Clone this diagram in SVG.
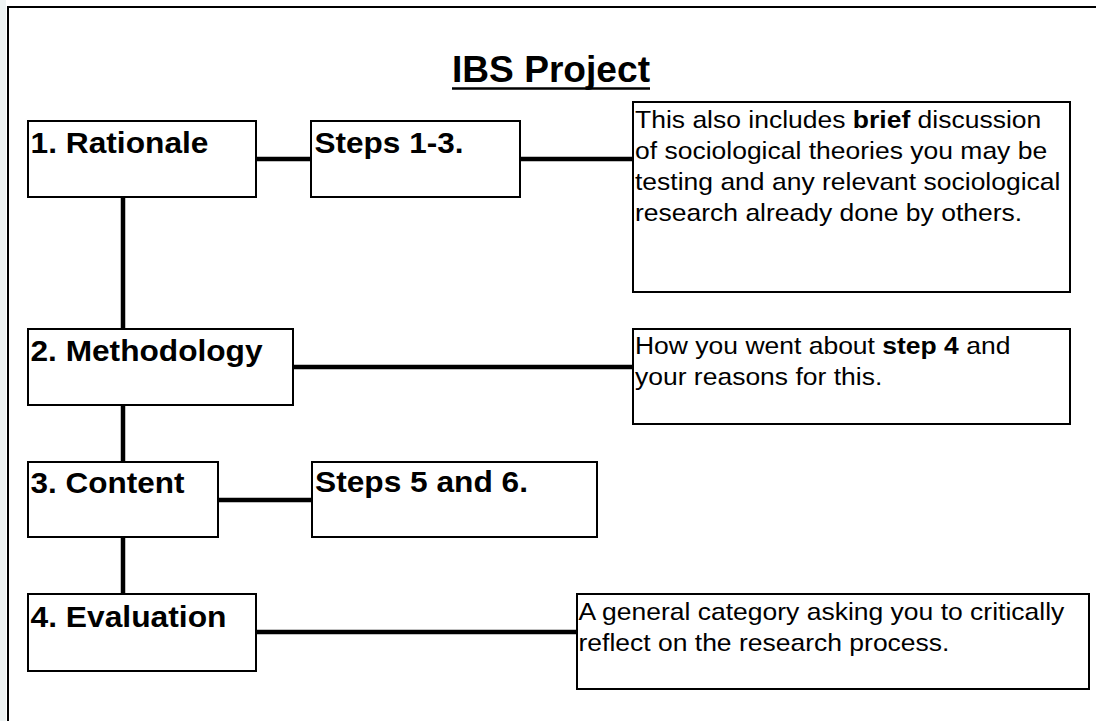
<svg xmlns="http://www.w3.org/2000/svg" width="1096" height="721" viewBox="0 0 1096 721">
  <style>
    .box { fill: #ffffff; stroke: #000000; stroke-width: 2; }
    .frame { fill: none; stroke: #000000; stroke-width: 2; }
    .link { stroke: #000000; stroke-width: 4.5; fill: none; }
    .label { font-family: "Liberation Sans", Arial, sans-serif; font-weight: bold; font-size: 30px; fill: #000000; }
    .title { font-family: "Liberation Sans", Arial, sans-serif; font-weight: bold; font-size: 37px; fill: #000000; }
    .note { font-family: "Liberation Sans", Arial, sans-serif; font-size: 24px; fill: #000000; }
    .note tspan.b { font-weight: bold; }
  </style>

  <!-- page background and open frame -->
  <rect x="0" y="0" width="1096" height="721" fill="#ffffff"/>
  <rect x="0" y="0" width="6" height="721" fill="#eef3f3"/>
  <path class="frame" d="M8,721 V7 H1096"/>

  <!-- title -->
  <g id="title">
    <text class="title" x="452" y="82" textLength="198" lengthAdjust="spacingAndGlyphs">IBS Project</text>
    <line x1="452" y1="88.5" x2="650" y2="88.5" stroke="#000" stroke-width="2.5"/>
  </g>

  <!-- connectors -->
  <g id="connectors">
    <line class="link" x1="256" y1="159" x2="311" y2="159"/>
    <line class="link" x1="520" y1="159" x2="633" y2="159"/>
    <line class="link" x1="123" y1="197" x2="123" y2="329"/>
    <line class="link" x1="293" y1="367" x2="633" y2="367"/>
    <line class="link" x1="123" y1="405" x2="123" y2="462"/>
    <line class="link" x1="218" y1="500" x2="312" y2="500"/>
    <line class="link" x1="123" y1="537" x2="123" y2="594"/>
    <line class="link" x1="256" y1="632" x2="577" y2="632"/>
  </g>

  <!-- main stages -->
  <g id="rationale">
    <rect class="box" x="28" y="121" width="228" height="76"/>
    <text class="label" x="30.5" y="153" textLength="178" lengthAdjust="spacingAndGlyphs">1. Rationale</text>
  </g>
  <g id="methodology">
    <rect class="box" x="28" y="329" width="265" height="76"/>
    <text class="label" x="30.5" y="361" textLength="232" lengthAdjust="spacingAndGlyphs">2. Methodology</text>
  </g>
  <g id="content">
    <rect class="box" x="28" y="462" width="190" height="75"/>
    <text class="label" x="30.5" y="493" textLength="154" lengthAdjust="spacingAndGlyphs">3. Content</text>
  </g>
  <g id="evaluation">
    <rect class="box" x="28" y="594" width="228" height="77"/>
    <text class="label" x="30.5" y="627" textLength="196" lengthAdjust="spacingAndGlyphs">4. Evaluation</text>
  </g>

  <!-- step boxes -->
  <g id="steps-1-3">
    <rect class="box" x="311" y="121" width="209" height="76"/>
    <text class="label" x="314.5" y="153" textLength="149" lengthAdjust="spacingAndGlyphs">Steps 1-3.</text>
  </g>
  <g id="steps-5-6">
    <rect class="box" x="312" y="462" width="285" height="75"/>
    <text class="label" x="315" y="492" textLength="213" lengthAdjust="spacingAndGlyphs">Steps 5 and 6.</text>
  </g>

  <!-- explanatory notes -->
  <g id="note-rationale">
    <rect class="box" x="633" y="102" width="437" height="190"/>
    <g transform="translate(635,0) scale(1.104,1)">
      <text class="note" x="0" y="128">This also includes <tspan class="b">brief</tspan> discussion</text>
      <text class="note" x="0" y="159">of sociological theories you may be</text>
      <text class="note" x="0" y="190">testing and any relevant sociological</text>
      <text class="note" x="0" y="221">research already done by others.</text>
    </g>
  </g>
  <g id="note-methodology">
    <rect class="box" x="633" y="329" width="437" height="95"/>
    <g transform="translate(635,0) scale(1.104,1)">
      <text class="note" x="0" y="354">How you went about <tspan class="b">step 4</tspan> and</text>
      <text class="note" x="0" y="385">your reasons for this.</text>
    </g>
  </g>
  <g id="note-evaluation">
    <rect class="box" x="577" y="594" width="512" height="95"/>
    <g transform="translate(578.5,0) scale(1.104,1)">
      <text class="note" x="0" y="620">A general category asking you to critically</text>
      <text class="note" x="0" y="651">reflect on the research process.</text>
    </g>
  </g>
</svg>
